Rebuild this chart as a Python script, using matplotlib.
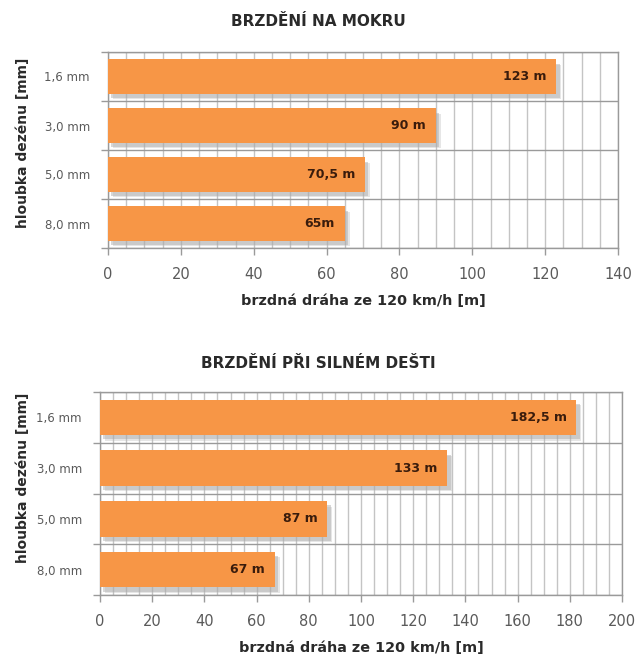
import matplotlib
matplotlib.use("Agg")
import matplotlib.pyplot as plt
import matplotlib.patheffects as pe
from matplotlib.ticker import MultipleLocator, FixedLocator

# Tread depth categories (top to bottom)
depths = ["1,6 mm", "3,0 mm", "5,0 mm", "8,0 mm"]

# Braking distance from 120 km/h on a wet road [m]
wet_values = [123, 90, 70.5, 65]
wet_labels = ["123 m", "90 m", "70,5 m", "65m"]

# Braking distance from 120 km/h in heavy rain [m]
rain_values = [182.5, 133, 87, 67]
rain_labels = ["182,5 m", "133 m", "87 m", "67 m"]

xlabel_text = "brzdná dráha ze 120 km/h [m]"
ylabel_text = "hloubka dezénu [mm]"

ORANGE = "#F79646"
GRID = "#c4c4c4"
AXIS = "#9a9a9a"
TICKTXT = "#5a5a5a"
DARK = "#2a2a2a"
LABEL = "#3a1c0c"

W, H = 636, 659
fig = plt.figure(figsize=(W / 100, H / 100), dpi=100)
fig.patch.set_facecolor("white")


def px_axes(left, top, right, bottom):
    return fig.add_axes([left / W, 1 - bottom / H, (right - left) / W, (bottom - top) / H])


shadow = [
    pe.SimplePatchShadow(offset=(3.5, -4.0), shadow_rgbFace="#b8b8b8", alpha=0.35),
    pe.SimplePatchShadow(offset=(2.5, -3.0), shadow_rgbFace="#a8a8a8", alpha=0.45),
    pe.Normal(),
]


def draw_chart(ax, values, labels, xmax, title, title_y, ylab_y):
    n = len(depths)
    y = list(range(n))
    bars = ax.barh(y, values, height=0.7, color=ORANGE, edgecolor="none", zorder=3)
    for b in bars:
        b.set_path_effects(shadow)
    ax.set_xlim(0, xmax)
    ax.set_ylim(n - 0.5, -0.5)

    ax.xaxis.set_major_locator(MultipleLocator(20))
    ax.xaxis.set_minor_locator(MultipleLocator(5))
    ax.yaxis.set_major_locator(FixedLocator(y))
    ax.yaxis.set_minor_locator(FixedLocator([i - 0.5 for i in range(n + 1)]))
    ax.set_yticklabels(depths)

    ax.grid(True, which="both", axis="x", color=GRID, lw=1.0, zorder=0)
    ax.grid(True, which="minor", axis="y", color=AXIS, lw=1.0, zorder=0)
    ax.set_axisbelow(True)

    ax.tick_params(axis="x", which="major", length=5, width=1, color=AXIS,
                   labelsize=10.5, labelcolor=TICKTXT, pad=9)
    ax.tick_params(axis="x", which="minor", length=0)
    ax.tick_params(axis="y", which="major", length=0, labelsize=8.5,
                   labelcolor=TICKTXT, pad=13)
    ax.tick_params(axis="y", which="minor", length=5, width=1, color=AXIS)
    for s in ax.spines.values():
        s.set_color(AXIS)
        s.set_linewidth(1.0)

    for v, lab, yy in zip(values, labels, y):
        ax.annotate(lab, xy=(v, yy), xytext=(-7, 0), textcoords="offset points",
                    ha="right", va="center", fontsize=9, fontweight="bold",
                    color=LABEL, zorder=5)

    ax.set_xlabel(xlabel_text, fontsize=10.4, fontweight="bold", color=DARK, labelpad=8)
    fig.text(0.5, 1 - title_y / H, title, ha="center", va="center",
             fontsize=11, fontweight="bold", color=DARK)
    fig.text(23 / W, 1 - ylab_y / H, ylabel_text, rotation=90, ha="center",
             va="center", fontsize=10, fontweight="bold", color=DARK)


ax1 = px_axes(108, 52, 618, 248)
draw_chart(ax1, wet_values, wet_labels, 140, "BRZDĚNÍ NA MOKRU", 22, 143)

ax2 = px_axes(100, 392, 622, 595)
draw_chart(ax2, rain_values, rain_labels, 200, "BRZDĚNÍ PŘI SILNÉM DEŠTI", 363, 478)

fig.savefig("out.png", dpi=100, facecolor="white")
